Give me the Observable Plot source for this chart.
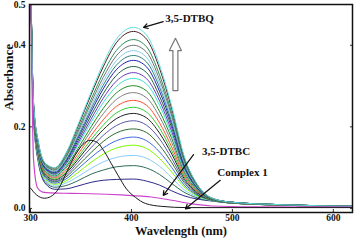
<!DOCTYPE html>
<html><head><meta charset="utf-8">
<script src="https://cdn.jsdelivr.net/npm/d3@7"></script>
<script src="https://cdn.jsdelivr.net/npm/@observablehq/plot@0.6"></script>
<style>body{margin:0;background:#fff} svg text{font-family:"Liberation Serif","Times New Roman",serif !important;}</style>
</head><body><div id="chart"></div>
<script>
const nm = [300,303,308,315,324,335,347,360,372,385,402,415,428,440,452,465,480,500,550,620];
const c01 = [0.6,0.220,0.110,0.060,0.047,0.048,0.055,0.064,0.069,0.071,0.072,0.067,0.057,0.043,0.031,0.023,0.018,0.013,0.008,0.004];
const c02 = [0.6,0.224,0.114,0.064,0.052,0.056,0.068,0.084,0.094,0.102,0.105,0.099,0.083,0.061,0.040,0.026,0.019,0.013,0.008,0.004];
const c03 = [0.6,0.226,0.118,0.068,0.055,0.062,0.078,0.098,0.114,0.125,0.130,0.123,0.103,0.075,0.046,0.029,0.019,0.013,0.008,0.004];
const c04 = [0.6,0.229,0.121,0.071,0.059,0.067,0.088,0.113,0.133,0.148,0.155,0.147,0.122,0.089,0.053,0.031,0.020,0.013,0.008,0.004];
const c05 = [0.6,0.231,0.124,0.074,0.062,0.072,0.097,0.125,0.148,0.166,0.175,0.166,0.138,0.100,0.058,0.033,0.020,0.013,0.008,0.004];
const c06 = [0.6,0.233,0.127,0.077,0.065,0.077,0.105,0.137,0.164,0.185,0.195,0.186,0.154,0.112,0.064,0.035,0.020,0.013,0.008,0.004];
const c07 = [0.6,0.235,0.129,0.079,0.067,0.081,0.113,0.149,0.179,0.203,0.215,0.204,0.170,0.122,0.069,0.037,0.021,0.013,0.008,0.004];
const c08 = [0.6,0.237,0.132,0.082,0.070,0.086,0.120,0.160,0.193,0.220,0.233,0.222,0.184,0.133,0.074,0.039,0.021,0.014,0.008,0.004];
const c09 = [0.6,0.239,0.134,0.084,0.072,0.089,0.126,0.169,0.204,0.234,0.248,0.236,0.196,0.141,0.078,0.041,0.021,0.014,0.008,0.004];
const c10 = [0.6,0.241,0.136,0.086,0.075,0.093,0.133,0.179,0.217,0.250,0.265,0.253,0.209,0.150,0.082,0.042,0.022,0.014,0.008,0.004];
const c11 = [0.6,0.243,0.139,0.089,0.077,0.098,0.141,0.190,0.232,0.267,0.284,0.271,0.224,0.161,0.087,0.044,0.022,0.014,0.008,0.004];
const c12 = [0.6,0.245,0.141,0.091,0.080,0.102,0.147,0.200,0.245,0.283,0.301,0.288,0.237,0.171,0.092,0.046,0.022,0.014,0.009,0.005];
const c13 = [0.6,0.247,0.143,0.093,0.082,0.106,0.155,0.211,0.259,0.299,0.319,0.305,0.252,0.180,0.097,0.048,0.023,0.015,0.009,0.005];
const c14 = [0.6,0.248,0.145,0.095,0.084,0.109,0.160,0.219,0.270,0.312,0.333,0.318,0.263,0.188,0.101,0.049,0.023,0.015,0.009,0.005];
const c15 = [0.6,0.250,0.147,0.097,0.086,0.113,0.166,0.228,0.281,0.326,0.348,0.333,0.274,0.197,0.104,0.050,0.023,0.015,0.009,0.005];
const c16 = [0.6,0.251,0.149,0.099,0.088,0.116,0.172,0.237,0.293,0.340,0.363,0.347,0.286,0.205,0.108,0.052,0.023,0.015,0.009,0.005];
const c17 = [0.6,0.253,0.151,0.101,0.090,0.119,0.177,0.244,0.302,0.351,0.375,0.359,0.296,0.212,0.112,0.053,0.024,0.015,0.009,0.005];
const c18 = [0.6,0.254,0.152,0.102,0.092,0.122,0.182,0.251,0.311,0.362,0.387,0.370,0.305,0.218,0.115,0.054,0.024,0.015,0.009,0.005];
const c19 = [0.6,0.255,0.154,0.104,0.094,0.125,0.187,0.259,0.321,0.374,0.400,0.383,0.315,0.226,0.118,0.056,0.024,0.015,0.009,0.005];
const c20 = [0.6,0.257,0.156,0.106,0.096,0.128,0.193,0.267,0.332,0.387,0.414,0.396,0.326,0.233,0.122,0.057,0.024,0.015,0.009,0.005];
const c21 = [0.6,0.259,0.159,0.109,0.099,0.133,0.201,0.279,0.347,0.406,0.434,0.415,0.342,0.244,0.127,0.059,0.025,0.015,0.009,0.005];
const c22 = [0.6,0.260,0.160,0.110,0.100,0.135,0.205,0.285,0.355,0.415,0.444,0.425,0.350,0.250,0.130,0.060,0.025,0.015,0.009,0.005];
const series = [c01,c02,c03,c04,c05,c06,c07,c08,c09,c10,c11,c12,c13,c14,c15,c16,c17,c18,c19,c20,c21,c22];
const seriesColors = ["#2b2b8c","#2e6b5a","#87cefa","#7cfc00","#4169e1","#2e6b2e","#5a5aa8","#222222","#32cd32","#ff5030","#808080","#228b22","#40e0d0","#6a3dbf","#1f5f3f","#2020b0","#2f7f7f","#87ceeb","#707070","#2e8b57","#4a2020","#5fe0e0"];

// 3,5-DTBC
const dtbcNm = [300,303,307,312,320,340,360,390,420,440,460,480,520,620];
const dtbcAbs = [0.6,0.12,0.05,0.04,0.038,0.037,0.036,0.033,0.028,0.02,0.011,0.006,0.004,0.003];
// Complex 1
const cxNm = [300,306,314,320,328,336,344,352,359,366,373,380,387,395,404,414,430,455,620];
const cxAbs = [0.05,0.033,0.025,0.029,0.049,0.09,0.13,0.157,0.167,0.162,0.14,0.11,0.08,0.048,0.027,0.012,0.005,0.002,0.002];

const xTicks = [300,400,500,600];
const yTicks = [0.0,0.2,0.4,0.5];

const labels = ["3,5-DTBQ","3,5-DTBC","Complex 1"];
const labelX = [433.5,470,485];
const labelY = [0.466,0.140,0.088];
const arrX1 = [431.5,461.5,488];
const arrY1 = [0.458,0.132,0.069];
const arrX2 = [412,431.5,453.5];
const arrY2 = [0.444,0.032,-0.001];
const bigArrowX = [441.1,441.1,437.6,443.6,449.5,446.0,446.0,441.1];
const bigArrowY = [0.289,0.387,0.387,0.417,0.387,0.387,0.289,0.289];

const font = "Liberation Serif";
const toRows = (xs, ys) => xs.map((x, i) => ({x, y: ys[i]}));

const marks = [];
series.forEach((s, k) => {
  marks.push(Plot.line(toRows(nm, s), {x: "x", y: "y", stroke: seriesColors[k], strokeWidth: 1, curve: "monotone-x", clip: true}));
});
marks.push(Plot.line(toRows(dtbcNm, dtbcAbs), {x: "x", y: "y", stroke: "#cc44cc", strokeWidth: 1.2, curve: "monotone-x", clip: true}));
marks.push(Plot.line(toRows(cxNm, cxAbs), {x: "x", y: "y", stroke: "#1a1a1a", strokeWidth: 1, curve: "monotone-x", clip: true}));
marks.push(Plot.line(toRows(bigArrowX, bigArrowY), {x: "x", y: "y", stroke: "#777", strokeWidth: 1.2, fill: "none"}));
const arrows = labels.map((l, i) => ({x1: arrX1[i], y1: arrY1[i], x2: arrX2[i], y2: arrY2[i]}));
marks.push(Plot.arrow(arrows, {x1: "x1", y1: "y1", x2: "x2", y2: "y2", stroke: "#111", strokeWidth: 1.2, headLength: 6, bend: 0}));
marks.push(Plot.text(labels.map((l, i) => ({l, x: labelX[i], y: labelY[i]})), {x: "x", y: "y", text: "l", textAnchor: "start", fontSize: 11, fontWeight: "bold", fontFamily: font, fill: "#111"}));
marks.push(Plot.axisX(xTicks, {tickSize: -3, tickFormat: () => "", stroke: "#333"}));
marks.push(Plot.axisX(xTicks, {tickSize: 0, tickPadding: 2, fontSize: 9.5, fontWeight: "bold", fontFamily: font, fill: "#111", label: null}));
marks.push(Plot.axisY(yTicks, {tickSize: -3, tickFormat: () => "", stroke: "#333", label: null}));
marks.push(Plot.axisY(yTicks, {tickSize: 0, tickPadding: 4, fontSize: 9.5, fontWeight: "bold", fontFamily: font, fill: "#111", tickFormat: d3.format(".1f"), label: null}));
marks.push(Plot.axisY(yTicks, {anchor: "right", tickSize: -3, tickFormat: () => "", stroke: "#333", label: null}));
marks.push(Plot.text(["Wavelength (nm)"], {frameAnchor: "bottom", dx: -10, dy: 22.5, fontSize: 12.5, fontWeight: "bold", fontFamily: font, fill: "#111"}));
marks.push(Plot.text(["Absorbance"], {frameAnchor: "left", dx: -21, dy: 2, rotate: -90, fontSize: 13, fontWeight: "bold", fontFamily: font, fill: "#111"}));
marks.push(Plot.frame({stroke: "#111", strokeWidth: 1.5}));

const chart = Plot.plot({
  width: 354, height: 240,
  marginLeft: 29, marginRight: 2, marginTop: 4, marginBottom: 28,
  x: {domain: [299, 619], label: null},
  y: {domain: [-0.01, 0.5], label: null},
  style: {fontFamily: "Liberation Serif, serif", background: "#fff"},
  marks
});
document.getElementById("chart").append(chart);
</script>
</body></html>
